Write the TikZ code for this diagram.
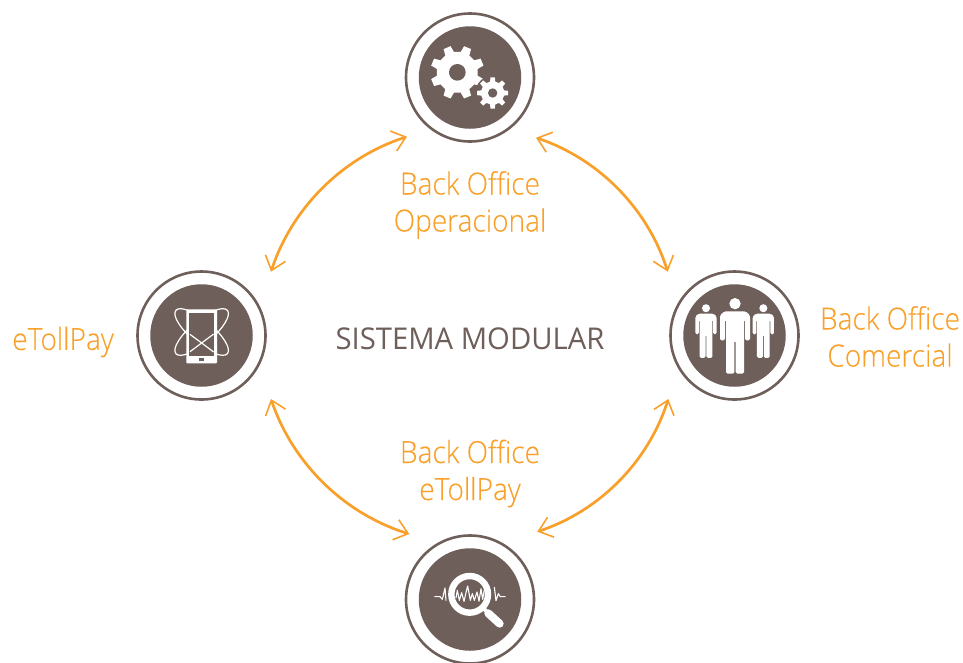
\documentclass[tikz,border=0pt]{standalone}
\usepackage{fontspec}
\usetikzlibrary{arrows.meta}
\setmainfont{Open Sans}
\newfontfamily\lightfont[FakeStretch=0.92,FakeBold=0.12]{Open Sans Light}
\newfontfamily\titlefont[FakeStretch=0.975]{Open Sans}
\definecolor{brownish}{HTML}{6E5F5A}
\definecolor{amber}{HTML}{F8A02A}
\tikzset{
  ring/.style={circle,draw=brownish,line width=2.6pt,fill=white,minimum size=128pt,inner sep=0pt},
  disk/.style={circle,fill=brownish,minimum size=102.5pt,inner sep=0pt},
  link/.style={draw=amber,line width=2.7pt,
    {Straight Barb[length=13pt,width=21pt,line width=1.6pt]}-{Straight Barb[length=13pt,width=21pt,line width=1.6pt]}},
  orangelabel/.style={text=amber,font=\fontsize{30.5}{37}\selectfont\lightfont,align=center,inner sep=0pt},
  titlelabel/.style={text=brownish,font=\fontsize{30}{36}\selectfont\titlefont,inner sep=0pt}
}
\newcommand{\gearshape}[3]{% outer radius, root radius, teeth
  \fill[white] (-13:#2) \foreach \k in {1,...,#3} {
    -- ({(\k-1)*360/#3-13}:#2) -- ({(\k-1)*360/#3-8}:#1) -- ({(\k-1)*360/#3+8}:#1) -- ({(\k-1)*360/#3+13}:#2)
    -- ({(\k-1)*360/#3+360/#3-13}:#2)
  } -- cycle;
}
\newcommand{\personfig}[3]{% x, y, scale
  \begin{scope}[shift={(#1,#2)},scale=#3]
    \fill[white] (0,-23) circle (17);
    \fill[white,rounded corners=1.5pt] (0,0) -- (32,0) -- (45,12) -- (45,87) -- (30,87) -- (30,25) -- (27,25)
      -- (27,187) -- (2,187) -- (2,88) -- (-2,88) -- (-2,187) -- (-27,187) -- (-27,25) -- (-30,25)
      -- (-30,87) -- (-45,87) -- (-45,12) -- (-32,0) -- cycle;
  \end{scope}
}
\begin{document}
\begin{tikzpicture}[x=1pt,y=-1pt]
\useasboundingbox (0,0) rectangle (963,662);
% rings and disks
\node[ring] (top) at (470,77.5) {};
\node[disk] (topdisk) at (top.center) {};
\node[ring] (left) at (201.5,335.5) {};
\node[disk] (leftdisk) at (left.center) {};
\node[ring] (right) at (734.5,335.5) {};
\node[disk] (rightdisk) at (right.center) {};
\node[ring] (bottom) at (470,599.5) {};
\node[disk] (bottomdisk) at (bottom.center) {};
% connectors
\draw[link] ([shift={(-63,59.2)}]top.center) to[bend right=27,looseness=.9] ([shift={(69.5,-63.8)}]left.center);
\draw[link] ([shift={(66,60.2)}]top.center) to[bend left=27,looseness=.9] ([shift={(-66.8,-63.8)}]right.center);
\draw[link] ([shift={(69.5,63.5)}]left.center) to[bend right=27,looseness=.9] ([shift={(-60.7,-65.5)}]bottom.center);
\draw[link] ([shift={(-66.2,63.5)}]right.center) to[bend left=27,looseness=.9] ([shift={(67.3,-67.8)}]bottom.center);
% labels
\node[orangelabel] (lbtop) at (470,205) {Back Office\\Operacional};
\node[orangelabel] (lbleft) at (63,342) {eTollPay};
\node[orangelabel] (lbright) at (890,336.5) {Back Office\\Comercial};
\node[orangelabel] (lbbottom) at (470,473.5) {Back Office\\eTollPay};
\node[titlelabel] (title) at (470,339) {SISTEMA MODULAR};
% gears
\begin{scope}[shift={(395,0)},scale=1/3]
  \begin{scope}[shift={(187,217)},rotate=22.5]
    \gearshape{81}{62}{8}
    \fill[brownish] (0,0) circle (25);
  \end{scope}
  \begin{scope}[shift={(293,279)}]
    \fill[brownish] (0,0) circle (52);
    \gearshape{47}{35}{8}
    \fill[brownish] (0,0) circle (14);
  \end{scope}
\end{scope}
% phone
\begin{scope}[shift={(125,262)},scale=1/3]
  \draw[white,line width=1.2pt,rotate around={40:(230,210)}] (230,210) ellipse (101 and 34);
  \draw[white,line width=1.2pt,rotate around={-40:(230,210)}] (230,210) ellipse (101 and 34);
  \fill[white,rounded corners=1pt] (184,142) rectangle (276,304);
  \fill[brownish] (193,152) rectangle (267,283);
  \fill[brownish] (222,287) rectangle (237,298);
  \draw[white,line width=1.2pt] (195,217) -- (266,270);
  \draw[white,line width=1.2pt] (195,269) -- (266,216);
\end{scope}
% people
\begin{scope}[shift={(660,262)},scale=1/3]
  \personfig{138}{155}{.71}
  \personfig{310}{155}{.71}
  \personfig{225}{148}{1}
\end{scope}
% magnifier
\begin{scope}[shift={(395,522)},scale=1/3]
  \draw[white,line width=1.1pt,line join=round] (118,224) -- (135,224) -- (142,232) -- (150,198) -- (153,236);
  \draw[white,line width=1.1pt,line join=round] (298,195) -- (303,236) -- (310,215) -- (316,224) -- (332,224);
  \draw[white,line width=6.4pt] (224,217) circle (55);
  \draw[white,line width=4pt] (262,256) -- (285,278);
  \draw[white,line width=8pt,line cap=round] (280,274) -- (314,305);
  \draw[white,line width=1.1pt,line join=round] (183,228) -- (187,205) -- (193,235) -- (200,212) -- (207,238) -- (213,212) -- (218,192) -- (226,235) -- (232,215) -- (238,235) -- (246,210) -- (252,238) -- (258,200) -- (263,232) -- (268,202);
\end{scope}
\end{tikzpicture}
\end{document}
